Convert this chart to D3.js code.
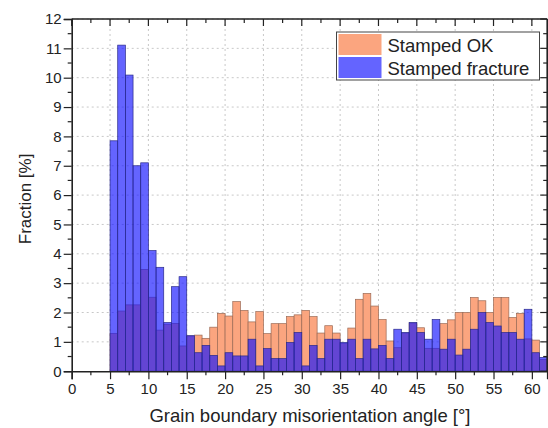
<!DOCTYPE html>
<html>
<head>
<meta charset="utf-8">
<script src="https://cdn.jsdelivr.net/npm/d3@7"></script>
<style>
  body { margin: 0; background: #fff; }
  text { font-family: "Liberation Sans", Arial, sans-serif; fill: #222; }
</style>
</head>
<body>
<div id="chart"></div>
<script>
'use strict';

// bin start angles (1 degree wide bins)
var binStarts = d3.range(5, 62)

var stampedOK = [1.29, 2.05, 2.26, 2.26, 3.47, 2.52, 1.40, 1.60, 1.63, 0.86,
  1.20, 1.23, 1.12, 1.50, 1.97, 1.88, 2.37, 2.07, 1.68, 2.03,
  1.28, 1.62, 1.62, 1.86, 1.92, 2.07, 1.86, 1.30, 1.55, 1.30,
  0.95, 1.47, 2.45, 2.65, 2.22, 1.76, 1.03, 0.80, 1.30, 1.64,
  1.48, 0.78, 0.78, 1.62, 1.75, 2.00, 2.00, 2.51, 2.40, 2.00,
  2.51, 2.51, 1.83, 1.97, 1.10, 1.06, 0.40]

var stampedFracture = [7.85, 11.11, 10.09, 7.00, 7.10, 4.11, 3.54, 1.66, 2.88, 3.22,
  1.21, 0.63, 0.88, 0.54, 0.18, 0.63, 0.52, 0.52, 1.09, 0.18,
  0.77, 0.43, 0.43, 0.98, 1.32, 0.18, 0.88, 0.43, 1.09, 1.09,
  0.98, 1.09, 0.43, 1.09, 0.76, 0.88, 0.43, 1.43, 1.32, 1.66,
  1.32, 1.09, 1.76, 0.75, 1.09, 0.55, 0.75, 1.43, 2.00, 1.66,
  1.54, 1.32, 1.32, 1.09, 2.11, 0.63, 0.47]

var xTicks = d3.range(0, 61, 5)
var yTicks = d3.range(0, 13, 1)

var seriesNames = ['Stamped OK', 'Stamped fracture']

var margin = {top: 19, right: 0.8, bottom: 56.8, left: 71.7},
    width = 548 - margin.left - margin.right,
    height = 428 - margin.top - margin.bottom

var svg = d3.select('#chart').append('svg')
    .attr('width', 548)
    .attr('height', 428)
  .append('g')
    .attr('transform', 'translate(' + margin.left + ',' + margin.top + ')')

var x = d3.scaleLinear().domain([0, 62]).range([0, width])
var y = d3.scaleLinear().domain([0, 12]).range([height, 0])

svg.append('defs').append('clipPath').attr('id', 'clip')
  .append('rect').attr('width', width).attr('height', height)

// grid
svg.append('g').selectAll('line')
    .data(xTicks.filter(function(d){ return d > 0 }))
  .enter().append('line')
    .attr('x1', function(d){ return x(d) }).attr('x2', function(d){ return x(d) })
    .attr('y1', 0).attr('y2', height)
    .attr('stroke', '#c8c8c8').attr('stroke-width', 1).attr('stroke-dasharray', '2,3')
svg.append('g').selectAll('line')
    .data(yTicks.filter(function(d){ return d > 0 }))
  .enter().append('line')
    .attr('y1', function(d){ return y(d) }).attr('y2', function(d){ return y(d) })
    .attr('x1', 0).attr('x2', width)
    .attr('stroke', '#c8c8c8').attr('stroke-width', 1).attr('stroke-dasharray', '2,3')

var bars = svg.append('g').attr('clip-path', 'url(#clip)')

function drawSeries(values, fill, opacity, stroke) {
  bars.append('g').selectAll('rect')
      .data(values)
    .enter().append('rect')
      .attr('x', function(d, i){ return x(binStarts[i]) })
      .attr('width', function(d, i){ return x(binStarts[i] + 1) - x(binStarts[i]) })
      .attr('y', function(d){ return y(d) })
      .attr('height', function(d){ return height - y(d) })
      .attr('fill', fill)
      .attr('fill-opacity', opacity)
      .attr('stroke', stroke)
      .attr('stroke-width', 0.7)
}

drawSeries(stampedOK, '#fba57f', 1, '#9a6a55')
drawSeries(stampedFracture, '#1414ff', 0.66, '#2a2a8a')

// axes
var xAxis = d3.axisBottom(x).tickValues(xTicks).tickSizeOuter(0).tickSize(8).tickPadding(4)
var gx = svg.append('g').attr('transform', 'translate(0,' + height + ')').call(xAxis)
var yAxis = d3.axisLeft(y).tickValues(yTicks).tickSizeOuter(0).tickSize(8).tickPadding(2)
var gy = svg.append('g').call(yAxis)

// minor ticks
var xMinor = d3.range(2.5, 62, 5)
var yMinor = d3.range(0.5, 12, 1)
gx.selectAll('line.minor').data(xMinor).enter().append('line')
    .attr('class', 'minor')
    .attr('x1', function(d){ return x(d) }).attr('x2', function(d){ return x(d) })
    .attr('y1', 0).attr('y2', 4).attr('stroke', '#222').attr('stroke-width', 1.2)
gy.selectAll('line.minor').data(yMinor).enter().append('line')
    .attr('class', 'minor')
    .attr('y1', function(d){ return y(d) }).attr('y2', function(d){ return y(d) })
    .attr('x1', 0).attr('x2', -4).attr('stroke', '#222').attr('stroke-width', 1.2)

// mirrored top and right ticks (inward)
var topTicks = svg.append('g')
topTicks.selectAll('line').data(xTicks.concat(xMinor)).enter().append('line')
    .attr('x1', function(d){ return x(d) }).attr('x2', function(d){ return x(d) })
    .attr('y1', 0).attr('y2', function(d){ return d % 5 === 0 ? 7 : 4 })
    .attr('stroke', '#222').attr('stroke-width', 1.2)
var rightTicks = svg.append('g')
rightTicks.selectAll('line').data(yTicks.concat(yMinor)).enter().append('line')
    .attr('y1', function(d){ return y(d) }).attr('y2', function(d){ return y(d) })
    .attr('x1', width).attr('x2', function(d){ return d % 1 === 0 ? width - 7 : width - 4 })
    .attr('stroke', '#222').attr('stroke-width', 1.2)

svg.selectAll('.domain').attr('stroke', '#222').attr('stroke-width', 1.6)
svg.selectAll('.tick line').attr('stroke', '#222').attr('stroke-width', 1.2)
svg.selectAll('.tick text').style('font-size', '15px').attr('fill', '#222')

svg.append('line').attr('x1', 0).attr('x2', width).attr('y1', 0).attr('y2', 0)
    .attr('stroke', '#222').attr('stroke-width', 1.6)
svg.append('line').attr('x1', width).attr('x2', width).attr('y1', 0).attr('y2', height)
    .attr('stroke', '#222').attr('stroke-width', 1.6)

// axis titles
svg.append('text')
    .attr('x', 310 - margin.left).attr('y', height + 51)
    .attr('text-anchor', 'middle')
    .style('font-size', '18.5px')
    .text('Grain boundary misorientation angle [°]')
svg.append('text')
    .attr('transform', 'translate(' + (-41) + ',' + (y(5.87)) + ') rotate(-90)')
    .attr('text-anchor', 'middle')
    .style('font-size', '17px')
    .text('Fraction [%]')

// legend
var legend = svg.append('g').attr('transform', 'translate(' + (336.5 - margin.left) + ',' + (32 - margin.top) + ')')
legend.append('rect')
    .attr('width', 203).attr('height', 48)
    .attr('fill', '#fff').attr('stroke', '#444').attr('stroke-width', 1)
var legendFills = [['#fba57f', 1], ['#1414ff', 0.66]]
seriesNames.forEach(function(name, i){
  legend.append('rect')
      .attr('x', 2).attr('y', 2 + i * 23)
      .attr('width', 43).attr('height', 21)
      .attr('fill', legendFills[i][0]).attr('fill-opacity', legendFills[i][1])
  legend.append('text')
      .attr('x', 51).attr('y', 19.5 + i * 23)
      .style('font-size', '18.5px')
      .text(name)
})
</script>
</body>
</html>
